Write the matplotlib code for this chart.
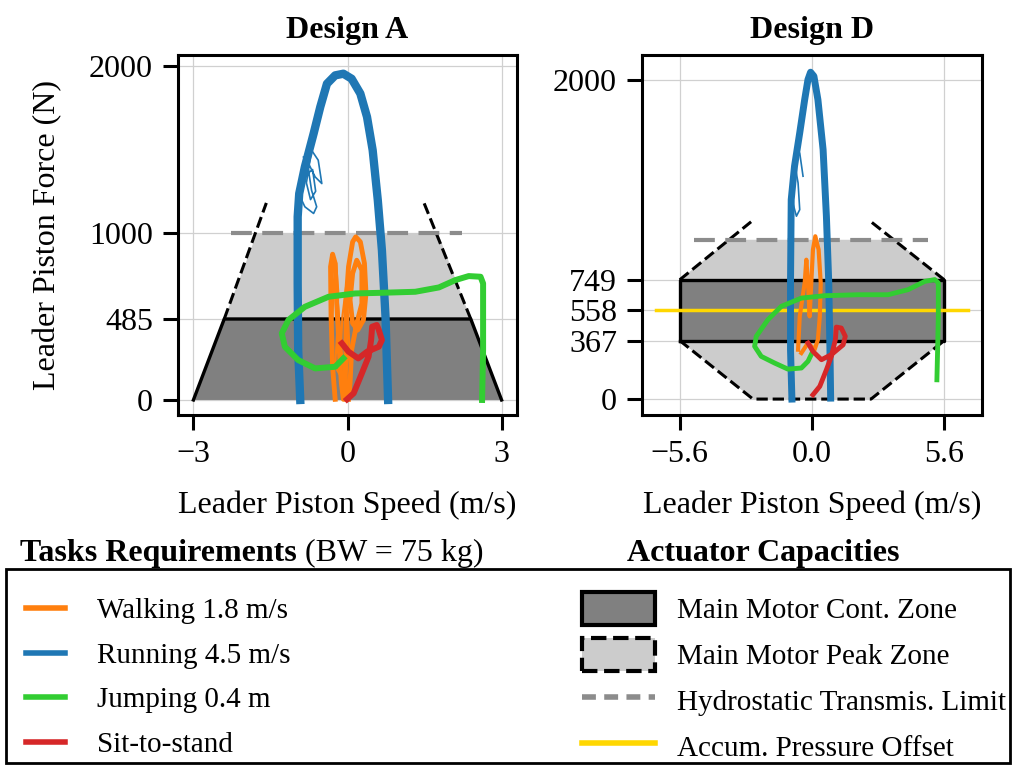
import matplotlib
matplotlib.use("Agg")
from matplotlib import pyplot as plt
from matplotlib.lines import Line2D
from matplotlib.patches import Patch, Rectangle

plt.rcParams['font.family'] = ['Liberation Serif', 'DejaVu Serif']
plt.rcParams['xtick.labelsize'] = 23
plt.rcParams['ytick.labelsize'] = 23
FS = 21

ORANGE = '#ff7f0e'
BLUE = '#1f77b4'
GREEN = '#32cd32'
RED = '#d62728'
DARK = '#808080'
LIGHT = '#cccccc'
HYDRO = '#8c8c8c'
GOLD = '#ffd700'

# ---------------- Design A ----------------
a_xticks = [-3, 0, 3]
a_yticks = [0, 485, 1000, 2000]

a_cont_v = [-3, -2.4, 2.4, 3]
a_cont_f = [0, 485, 485, 0]
a_peak_v = [-2.4, -1.76, 1.76, 2.4]
a_peak_f = [485, 1000, 1000, 485]
a_peak_left_v = [-2.4, -1.58]
a_peak_left_f = [485, 1180]
a_peak_right_v = [2.4, 1.47]
a_peak_right_f = [485, 1195]
a_hydro_v = [-2.27, 2.22]
a_hydro_f = [1000, 1000]

a_run_v = [-0.92, -0.96, -0.97, -0.97, -0.94, -0.83, -0.66, -0.53, -0.40, -0.24,
           -0.08, 0.08, 0.25, 0.38, 0.49, 0.59, 0.67, 0.74, 0.77, 0.79]
a_run_f = [0, 299, 698, 1097, 1236, 1396, 1595, 1755, 1894, 1944,
           1954, 1924, 1835, 1695, 1496, 1196, 897, 499, 199, 0]
a_run_hair_v = [-0.92, -0.83, -0.66, -0.60, -0.70, -0.76, -0.86, -0.79, -0.63,
                -0.50, -0.57, -0.70, -0.80, -0.72, -0.62, -0.68, -0.88]
a_run_hair_f = [1216, 1157, 1117, 1157, 1256, 1376, 1456, 1436, 1336,
                1296, 1436, 1496, 1300, 1200, 1250, 1380, 1330]

a_walk_v = [-0.24, -0.29, -0.32, -0.33, -0.29, -0.24, -0.21, -0.16, -0.12, -0.08,
            -0.05, -0.03, -0.03, 0.02, 0.10, 0.16, 0.25, 0.33, 0.36, 0.31, 0.20,
            0.10, 0.05, 0.10, 0.18, 0.28, 0.28, 0.18, 0.08, 0.05, 0.02]
a_walk_f = [4, 199, 499, 798, 873, 818, 578, 299, 100, 4,
            4, 299, 578, 798, 947, 977, 947, 818, 638, 479, 419,
            459, 598, 758, 837, 778, 578, 459, 299, 100, 4]
a_walk2_v = [-0.26, -0.30, -0.27, -0.22, -0.18, -0.20, -0.24, -0.15, -0.10, -0.02, 0.04,
             -0.06, -0.13, -0.19, -0.28]
a_walk2_f = [60, 400, 700, 820, 650, 420, 200, 150, 500, 700, 300,
             120, 350, 600, 860]

a_jump_v = [-0.08, -0.24, -0.63, -0.96, -1.22, -1.28, -1.15, -0.83, -0.37, 0.15,
            0.67, 1.32, 1.78, 2.10, 2.36, 2.59, 2.64, 2.64, 2.64, 2.62]
a_jump_f = [249, 199, 189, 239, 319, 399, 479, 558, 618, 638,
            642, 648, 674, 718, 742, 738, 698, 499, 299, 0]

a_sts_v = [-0.11, 0.02, 0.21, 0.38, 0.61, 0.67, 0.61, 0.57, 0.48, 0.46, 0.41, 0.28, 0.12, -0.01]
a_sts_f = [339, 289, 249, 289, 319, 359, 419, 449, 439, 359, 259, 160, 40, 4]

# ---------------- Design D ----------------
d_xticks = [-5.6, 0.0, 5.6]
d_xlabels = ['\u22125.6', '0.0', '5.6']
d_yticks = [0, 367, 558, 749, 2000]

d_cont_v = [-5.6, 5.6, 5.6, -5.6, -5.6]
d_cont_f = [367, 367, 749, 749, 367]
d_peak_v = [-5.6, -2.5, 2.5, 5.6, 5.6, 3.5, -3.5, -5.6]
d_peak_f = [367, 0, 0, 367, 749, 1000, 1000, 749]
d_peak_low_v = [-5.6, -2.5, 2.5, 5.6]
d_peak_low_f = [367, 0, 0, 367]
d_peak_left_v = [-5.6, -2.58]
d_peak_left_f = [749, 1113]
d_peak_right_v = [5.6, 2.5]
d_peak_right_f = [749, 1113]
d_hydro_v = [-5.0, 4.9]
d_hydro_f = [1000, 1000]
d_accum_v = [-6.6, 6.6]
d_accum_f = [558, 558]

d_run_v = [-0.85, -0.91, -0.91, -0.88, -0.74, -0.52, -0.31, -0.17, -0.06, 0.08,
           0.25, 0.47, 0.61, 0.71, 0.76, 0.79]
d_run_f = [0, 310, 729, 1252, 1462, 1671, 1880, 2006, 2052, 2027,
           1880, 1566, 1148, 729, 310, 6]
d_run_hair_v = [-0.85, -0.66, -0.52, -0.59, -0.74, -0.52, -0.38]
d_run_hair_f = [1252, 1148, 1189, 1357, 1483, 1545, 1399]

d_walk_v = [-0.59, -0.52, -0.31, -0.24, -0.17, -0.10, -0.03, 0.04, 0.14, 0.28,
            0.37, 0.33, 0.25, 0.11, -0.17, -0.45]
d_walk_f = [310, 519, 729, 875, 729, 519, 729, 938, 1022, 938,
            729, 519, 373, 310, 352, 289]

d_jump_v = [0.0, -0.17, -0.45, -1.02, -1.58, -2.15, -2.43, -2.36, -1.87, -1.30,
            -0.45, 0.54, 1.95, 3.22, 4.07, 4.78, 5.20, 5.35, 5.35, 5.32, 5.29]
d_jump_f = [289, 237, 195, 188, 226, 268, 331, 394, 498, 582,
            634, 649, 655, 655, 687, 739, 750, 729, 519, 310, 121]

d_sts_v = [-0.17, 0.04, 0.40, 0.82, 1.32, 1.41, 1.24, 1.03, 0.99, 0.82, 0.61, 0.33, 0.04]
d_sts_f = [352, 299, 247, 279, 341, 394, 446, 452, 373, 268, 184, 80, 27]

task_labels = ['Walking 1.8 m/s', 'Running 4.5 m/s', 'Jumping 0.4 m', 'Sit-to-stand']
task_colors = [ORANGE, BLUE, GREEN, RED]
cap_labels = ['Main Motor Cont. Zone', 'Main Motor Peak Zone',
              'Hydrostatic Transmis. Limit', 'Accum. Pressure Offset']

W, H = 1017, 769
fig = plt.figure(figsize=(W / 100, H / 100), dpi=100)

def px_axes(x0, y0, x1, y1):
    return fig.add_axes([x0 / W, 1 - y1 / H, (x1 - x0) / W, (y1 - y0) / H])

ax_a = px_axes(178, 55, 517, 415)
ax_d = px_axes(642, 55, 982, 415)

hydro_ls = (0, (5, 2.5))

# Design A zones
ax_a.fill(a_cont_v, a_cont_f, color=DARK, lw=0, zorder=1)
ax_a.fill(a_peak_v, a_peak_f, color=LIGHT, lw=0, zorder=1)
ax_a.plot(a_cont_v, a_cont_f, color='black', lw=2.4, zorder=2)
ax_a.plot(a_peak_left_v, a_peak_left_f, color='black', lw=2.2, ls='--', zorder=2)
ax_a.plot(a_peak_right_v, a_peak_right_f, color='black', lw=2.2, ls='--', zorder=2)
ax_a.plot(a_hydro_v, a_hydro_f, color=HYDRO, lw=3, ls=hydro_ls, zorder=2.5)

# Design A tasks
ax_a.plot(a_run_v, a_run_f, color=BLUE, lw=6, zorder=3)
ax_a.plot(a_run_hair_v, a_run_hair_f, color=BLUE, lw=1.2, zorder=3)
ax_a.plot(a_walk_v, a_walk_f, color=ORANGE, lw=3.5, zorder=3.1)
ax_a.plot(a_walk2_v, a_walk2_f, color=ORANGE, lw=1.5, zorder=3.1)
ax_a.plot(a_jump_v, a_jump_f, color=GREEN, lw=4.3, zorder=3.2)
ax_a.plot(a_sts_v, a_sts_f, color=RED, lw=4.3, zorder=3.3)

# Design D zones
ax_d.fill(d_peak_v, d_peak_f, color=LIGHT, lw=0, zorder=1)
ax_d.fill(d_cont_v, d_cont_f, color=DARK, lw=0, zorder=1.1)
ax_d.plot(d_cont_v, d_cont_f, color='black', lw=2.4, zorder=2)
ax_d.plot(d_peak_low_v, d_peak_low_f, color='black', lw=2.2, ls='--', zorder=2)
ax_d.plot(d_peak_left_v, d_peak_left_f, color='black', lw=2.2, ls='--', zorder=2)
ax_d.plot(d_peak_right_v, d_peak_right_f, color='black', lw=2.2, ls='--', zorder=2)
ax_d.plot(d_hydro_v, d_hydro_f, color=HYDRO, lw=3, ls=hydro_ls, zorder=2.5)
ax_d.plot(d_accum_v, d_accum_f, color=GOLD, lw=2.5, zorder=2.6)

# Design D tasks
ax_d.plot(d_run_v, d_run_f, color=BLUE, lw=5, zorder=3)
ax_d.plot(d_run_hair_v, d_run_hair_f, color=BLUE, lw=1.2, zorder=3)
ax_d.plot(d_walk_v, d_walk_f, color=ORANGE, lw=3, zorder=3.1)
ax_d.plot(d_jump_v, d_jump_f, color=GREEN, lw=3.5, zorder=3.2)
ax_d.plot(d_sts_v, d_sts_f, color=RED, lw=3.5, zorder=3.3)

for ax, title in ((ax_a, 'Design A'), (ax_d, 'Design D')):
    ax.grid(True, color='#d0d0d0', lw=0.9)
    ax.set_axisbelow(True)
    for s in ax.spines.values():
        s.set_linewidth(2.2)
    ax.tick_params(direction='out', length=11, width=2.2, labelsize=23, pad=7)
    ax.set_title(title, fontsize=23, fontweight='bold', pad=12)
    ax.set_xlabel('Leader Piston Speed (m/s)', fontsize=23, va='center')
    ax.xaxis.set_label_coords(0.5, (415 - 505) / 360)

ax_a.set_xlim(-3.3, 3.3)
ax_a.set_ylim(-90, 2066)
ax_a.set_xticks(a_xticks)
ax_a.set_yticks(a_yticks)
ax_a.set_ylabel('Leader Piston Force (N)', fontsize=23, va='center')
ax_a.yaxis.set_label_coords((48 - 178) / 339, 0.5)

ax_d.set_xlim(-7.2, 7.2)
ax_d.set_ylim(-100, 2160)
ax_d.set_xticks(d_xticks)
ax_d.set_xticklabels(d_xlabels)
ax_d.set_yticks(d_yticks)

# legend area
fig.patches.append(Rectangle((6 / W, 1 - 763 / H), 1004 / W, 194 / H,
                             transform=fig.transFigure, fill=False,
                             ec='black', lw=2))
t1 = fig.text(20 / W, 1 - 568 / H, 'Tasks Requirements', fontsize=23,
              fontweight='bold', va='bottom', ha='left')
fig.add_artist(plt.Annotation(' (BW = 75 kg)', xy=(1, 0), xycoords=t1,
                              fontsize=23, va='bottom', ha='left'))
fig.text(763 / W, 1 - 568 / H, 'Actuator Capacities', fontsize=23,
         fontweight='bold', va='bottom', ha='center')

task_handles = [Line2D([], [], color=c, lw=4) for c in task_colors]
fig.legend(task_handles, task_labels, loc='upper left',
           bbox_to_anchor=(26 / W, 1 - 598 / H), frameon=False, fontsize=FS,
           handlelength=1.35, handletextpad=1.1, labelspacing=0.62,
           borderpad=0, borderaxespad=0)

cap_handles = [Patch(fc=DARK, ec='black', lw=3),
               Patch(fc=LIGHT, ec='black', lw=3, ls='--'),
               Line2D([], [], color=HYDRO, lw=4, ls=(0, (2.5, 1.5))),
               Line2D([], [], color=GOLD, lw=4)]
fig.legend(cap_handles, cap_labels, loc='upper left',
           bbox_to_anchor=(582 / W, 1 - 592 / H), frameon=False, fontsize=FS,
           handlelength=2.5, handleheight=1.35, handletextpad=0.75,
           labelspacing=0.45, borderpad=0, borderaxespad=0)

fig.savefig('out.png', dpi=100)
